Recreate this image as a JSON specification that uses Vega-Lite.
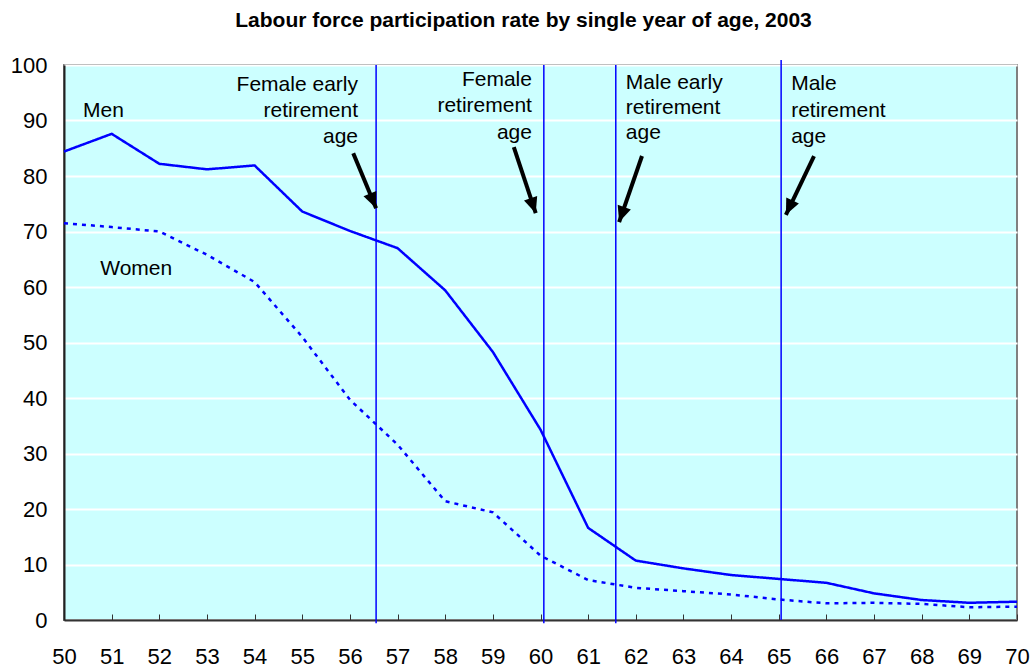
{
  "$schema": "https://vega.github.io/schema/vega-lite/v6.json",
  "width": 953,
  "height": 555,
  "autosize": {"type": "none"},
  "padding": {"left": 64, "top": 65, "right": 17, "bottom": 47},
  "background": "white",
  "title": {
    "text": "Labour force participation rate by single year of age, 2003",
    "font": "Liberation Sans",
    "fontSize": 21,
    "fontWeight": "bold",
    "color": "black",
    "anchor": "middle",
    "dx": -17,
    "offset": 23
  },
  "config": {
    "view": {"fill": "#CCFFFF", "stroke": "#808080", "strokeWidth": 2},
    "axis": {"labelFont": "Liberation Sans", "labelFontSize": 22, "labelColor": "black", "title": null}
  },
  "datasets": {
    "series": [
      {"age": 50, "sex": "Men", "rate": 84.4},
      {"age": 51, "sex": "Men", "rate": 87.6},
      {"age": 52, "sex": "Men", "rate": 82.2},
      {"age": 53, "sex": "Men", "rate": 81.2},
      {"age": 54, "sex": "Men", "rate": 81.9},
      {"age": 55, "sex": "Men", "rate": 73.6},
      {"age": 56, "sex": "Men", "rate": 70.1},
      {"age": 57, "sex": "Men", "rate": 67.0},
      {"age": 58, "sex": "Men", "rate": 59.4},
      {"age": 59, "sex": "Men", "rate": 48.3},
      {"age": 60, "sex": "Men", "rate": 34.3},
      {"age": 61, "sex": "Men", "rate": 16.6},
      {"age": 62, "sex": "Men", "rate": 10.7},
      {"age": 63, "sex": "Men", "rate": 9.3},
      {"age": 64, "sex": "Men", "rate": 8.1},
      {"age": 65, "sex": "Men", "rate": 7.4},
      {"age": 66, "sex": "Men", "rate": 6.7},
      {"age": 67, "sex": "Men", "rate": 4.8},
      {"age": 68, "sex": "Men", "rate": 3.6},
      {"age": 69, "sex": "Men", "rate": 3.1},
      {"age": 70, "sex": "Men", "rate": 3.3},
      {"age": 50, "sex": "Women", "rate": 71.5},
      {"age": 51, "sex": "Women", "rate": 70.8},
      {"age": 52, "sex": "Women", "rate": 70.0},
      {"age": 53, "sex": "Women", "rate": 65.8},
      {"age": 54, "sex": "Women", "rate": 60.9},
      {"age": 55, "sex": "Women", "rate": 51.0},
      {"age": 56, "sex": "Women", "rate": 39.7},
      {"age": 57, "sex": "Women", "rate": 31.6},
      {"age": 58, "sex": "Women", "rate": 21.4},
      {"age": 59, "sex": "Women", "rate": 19.4},
      {"age": 60, "sex": "Women", "rate": 11.6},
      {"age": 61, "sex": "Women", "rate": 7.2},
      {"age": 62, "sex": "Women", "rate": 5.8},
      {"age": 63, "sex": "Women", "rate": 5.2},
      {"age": 64, "sex": "Women", "rate": 4.6},
      {"age": 65, "sex": "Women", "rate": 3.7},
      {"age": 66, "sex": "Women", "rate": 3.0},
      {"age": 67, "sex": "Women", "rate": 3.1},
      {"age": 68, "sex": "Women", "rate": 2.9},
      {"age": 69, "sex": "Women", "rate": 2.3},
      {"age": 70, "sex": "Women", "rate": 2.4}
    ],
    "markers": [
      {"label": "Female early retirement age", "age": 56.55, "top": 100, "bottom": -0.6},
      {"label": "Female retirement age", "age": 60.07, "top": 100, "bottom": -0.6},
      {"label": "Male early retirement age", "age": 61.58, "top": 100, "bottom": -0.6},
      {"label": "Male retirement age", "age": 65.05, "top": 100.9, "bottom": 0}
    ],
    "arrows": [
      {"label": "Female early retirement age", "x1": 56.07, "y1": 84.1, "x2": 56.55, "y2": 74.2},
      {"label": "Female retirement age", "x1": 59.44, "y1": 85.2, "x2": 59.9, "y2": 73.3},
      {"label": "Male early retirement age", "x1": 62.13, "y1": 83.6, "x2": 61.65, "y2": 71.7},
      {"label": "Male retirement age", "x1": 65.74, "y1": 83.6, "x2": 65.15, "y2": 73.0}
    ],
    "notes": [
      {"text": "Female early", "x": 56.17, "y": 96.4, "side": "right"},
      {"text": "retirement", "x": 56.17, "y": 91.7, "side": "right"},
      {"text": "age", "x": 56.17, "y": 87.1, "side": "right"},
      {"text": "Female", "x": 59.82, "y": 97.3, "side": "right"},
      {"text": "retirement", "x": 59.82, "y": 92.6, "side": "right"},
      {"text": "age", "x": 59.82, "y": 87.8, "side": "right"},
      {"text": "Male early", "x": 61.79, "y": 96.8, "side": "left"},
      {"text": "retirement", "x": 61.79, "y": 92.3, "side": "left"},
      {"text": "age", "x": 61.79, "y": 87.7, "side": "left"},
      {"text": "Male", "x": 65.26, "y": 96.6, "side": "left"},
      {"text": "retirement", "x": 65.26, "y": 91.7, "side": "left"},
      {"text": "age", "x": 65.26, "y": 87.1, "side": "left"},
      {"text": "Men", "x": 50.4, "y": 91.8, "side": "left"},
      {"text": "Women", "x": 50.76, "y": 63.3, "side": "left"}
    ]
  },
  "layer": [
    {
      "data": {"name": "series"},
      "mark": {"type": "line", "color": "#0000FF", "strokeWidth": 2.5},
      "encoding": {
        "x": {
          "field": "age", "type": "quantitative",
          "scale": {"domain": [50, 70], "nice": false, "zero": false},
          "axis": {
            "values": [50,51,52,53,54,55,56,57,58,59,60,61,62,63,64,65,66,67,68,69,70],
            "format": "d",
            "grid": false,
            "domainColor": "#333333",
            "domainWidth": 2,
            "tickColor": "#333333",
            "tickWidth": 1,
            "tickSize": -6,
            "labelPadding": 32,
            "labelFlush": false,
            "labelOverlap": false
          }
        },
        "y": {
          "field": "rate", "type": "quantitative",
          "scale": {"domain": [0, 100], "nice": false},
          "axis": {
            "values": [0,10,20,30,40,50,60,70,80,90,100],
            "grid": true,
            "gridColor": "white",
            "gridWidth": 2,
            "gridOpacity": 1,
            "ticks": false,
            "domainColor": "#222222",
            "domainWidth": 2,
            "labelPadding": 17,
            "labelFlush": false
          }
        },
        "strokeDash": {
          "field": "sex", "type": "nominal",
          "scale": {"domain": ["Men", "Women"], "range": [[1, 0], [4, 5]]},
          "legend": null
        },
        "detail": {"field": "sex"}
      }
    },
    {
      "data": {"name": "markers"},
      "mark": {"type": "rule", "color": "#0000FF", "strokeWidth": 1.5},
      "encoding": {
        "x": {"field": "age", "type": "quantitative"},
        "y": {"field": "top", "type": "quantitative"},
        "y2": {"field": "bottom"}
      }
    },
    {
      "data": {"name": "arrows"},
      "mark": {"type": "rule", "color": "black", "strokeWidth": 4},
      "encoding": {
        "x": {"field": "x1", "type": "quantitative"},
        "y": {"field": "y1", "type": "quantitative"},
        "x2": {"field": "x2"},
        "y2": {"field": "y2"}
      }
    },
    {
      "data": {"name": "arrows"},
      "transform": [{"filter": "datum.label === 'Female early retirement age'"}],
      "mark": {"type": "point", "shape": "M0,0L0.44,1L-0.44,1Z", "filled": true, "color": "black", "opacity": 1, "size": 1000, "angle": 157},
      "encoding": {
        "x": {"field": "x2", "type": "quantitative"},
        "y": {"field": "y2", "type": "quantitative"}
      }
    },
    {
      "data": {"name": "arrows"},
      "transform": [{"filter": "datum.label === 'Female retirement age'"}],
      "mark": {"type": "point", "shape": "M0,0L0.44,1L-0.44,1Z", "filled": true, "color": "black", "opacity": 1, "size": 1000, "angle": 161},
      "encoding": {
        "x": {"field": "x2", "type": "quantitative"},
        "y": {"field": "y2", "type": "quantitative"}
      }
    },
    {
      "data": {"name": "arrows"},
      "transform": [{"filter": "datum.label === 'Male early retirement age'"}],
      "mark": {"type": "point", "shape": "M0,0L0.44,1L-0.44,1Z", "filled": true, "color": "black", "opacity": 1, "size": 1000, "angle": 199},
      "encoding": {
        "x": {"field": "x2", "type": "quantitative"},
        "y": {"field": "y2", "type": "quantitative"}
      }
    },
    {
      "data": {"name": "arrows"},
      "transform": [{"filter": "datum.label === 'Male retirement age'"}],
      "mark": {"type": "point", "shape": "M0,0L0.44,1L-0.44,1Z", "filled": true, "color": "black", "opacity": 1, "size": 1000, "angle": 205},
      "encoding": {
        "x": {"field": "x2", "type": "quantitative"},
        "y": {"field": "y2", "type": "quantitative"}
      }
    },
    {
      "data": {"name": "notes"},
      "transform": [{"filter": "datum.side === 'right'"}],
      "mark": {"type": "text", "align": "right", "baseline": "middle", "font": "Liberation Sans", "fontSize": 21, "color": "black"},
      "encoding": {
        "x": {"field": "x", "type": "quantitative"},
        "y": {"field": "y", "type": "quantitative"},
        "text": {"field": "text"}
      }
    },
    {
      "data": {"name": "notes"},
      "transform": [{"filter": "datum.side === 'left'"}],
      "mark": {"type": "text", "align": "left", "baseline": "middle", "font": "Liberation Sans", "fontSize": 21, "color": "black"},
      "encoding": {
        "x": {"field": "x", "type": "quantitative"},
        "y": {"field": "y", "type": "quantitative"},
        "text": {"field": "text"}
      }
    }
  ]
}
